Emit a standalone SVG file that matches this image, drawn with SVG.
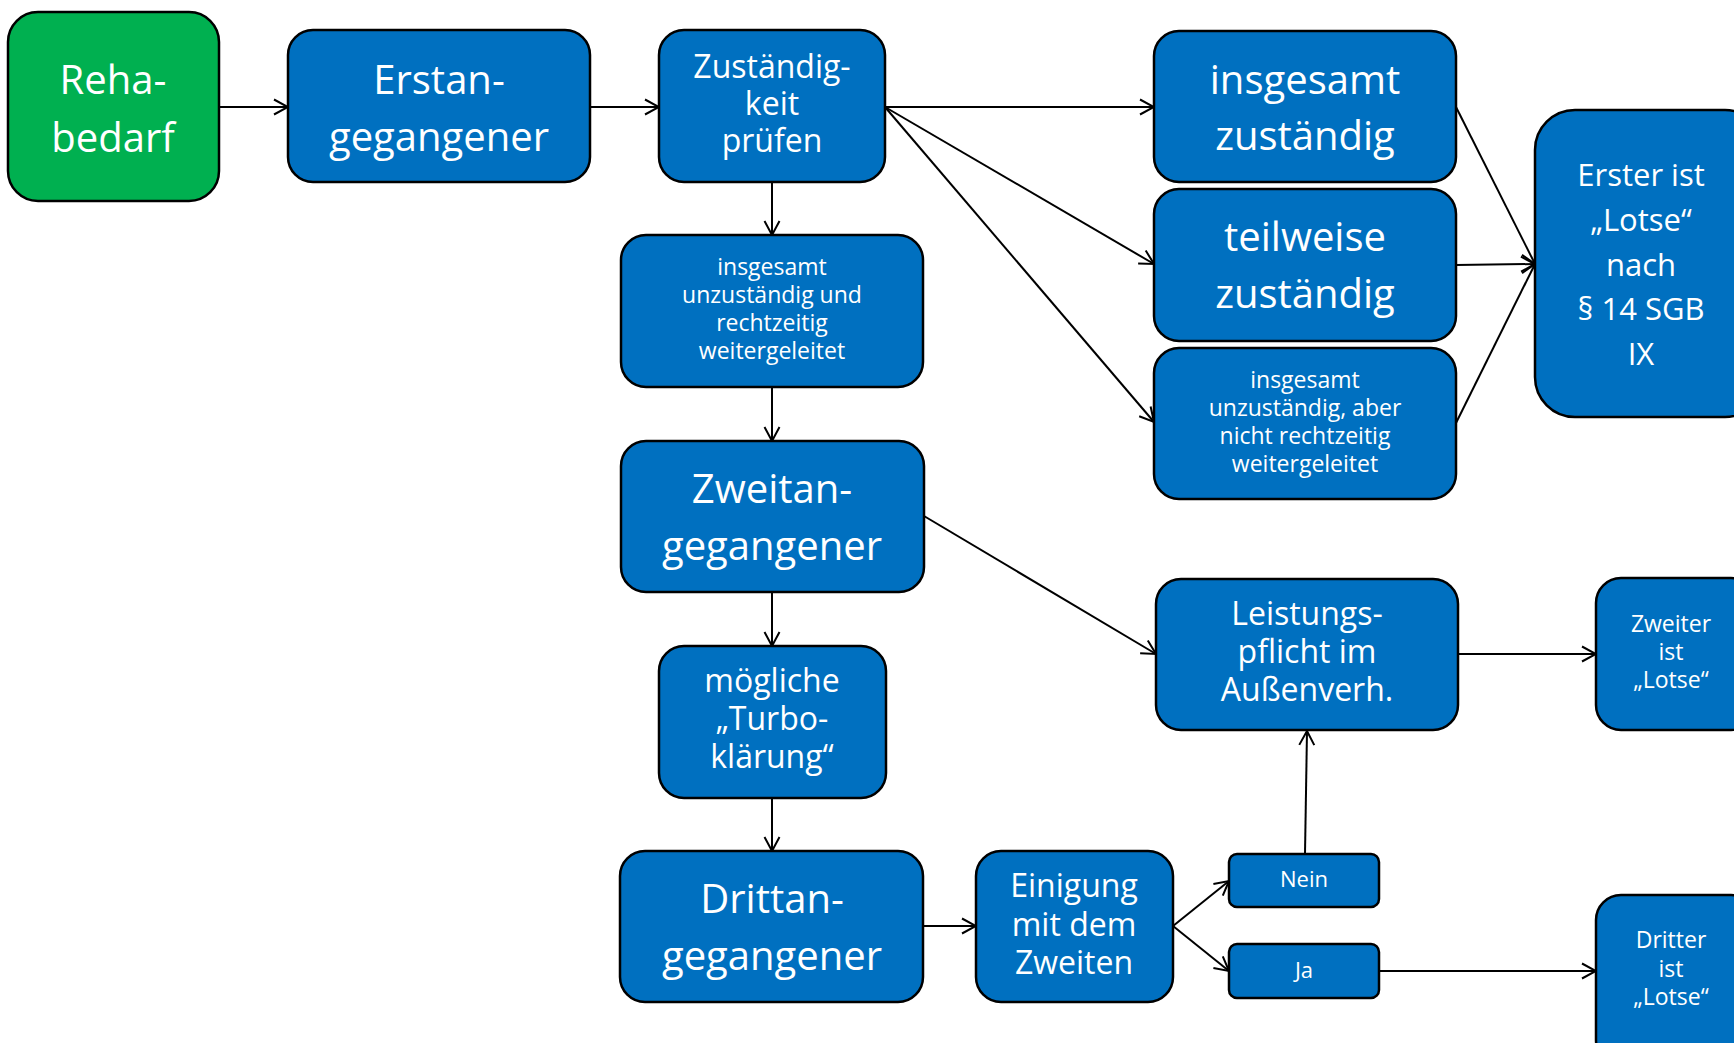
<svg xmlns="http://www.w3.org/2000/svg" width="1734" height="1043" viewBox="0 0 1734 1043">
<style>
.b{fill:#0070C0;stroke:#000;stroke-width:2.5}
.g{fill:#00B050;stroke:#000;stroke-width:2.5}
text{fill:#fff;font-family:"Open Sans","Noto Sans","DejaVu Sans",sans-serif;text-anchor:middle}
.xl{font-size:40px}
.l{font-size:32px}
.m{font-size:31px}
.s{font-size:23px}
.n{font-size:22px}
.c line{stroke:#000;stroke-width:2;marker-end:url(#a)}
</style>
<defs>
<marker id="a" markerUnits="userSpaceOnUse" markerWidth="16" markerHeight="18" viewBox="0 0 16 18" refX="15" refY="9" orient="auto">
<path d="M1,1.5 L15,9 L1,16.5" fill="none" stroke="#000" stroke-width="2"/>
</marker>
</defs>
<g class="c" id="connectors">
<line x1="219" y1="107" x2="288" y2="107"/>
<line x1="590" y1="107" x2="659" y2="107"/>
<line x1="885" y1="107" x2="1154" y2="107"/>
<line x1="885" y1="107" x2="1154" y2="264"/>
<line x1="885" y1="107" x2="1154" y2="422"/>
<line x1="1456" y1="107" x2="1535" y2="264"/>
<line x1="1456" y1="265" x2="1535" y2="264"/>
<line x1="1456" y1="423" x2="1535" y2="264"/>
<line x1="772" y1="182" x2="772" y2="235"/>
<line x1="772" y1="387" x2="772" y2="441"/>
<line x1="772" y1="592" x2="772" y2="646"/>
<line x1="772" y1="798" x2="772" y2="851"/>
<line x1="924" y1="516" x2="1156" y2="654"/>
<line x1="1458" y1="654" x2="1596" y2="654"/>
<line x1="923" y1="926" x2="976" y2="926"/>
<line x1="1173" y1="926" x2="1229" y2="881"/>
<line x1="1173" y1="926" x2="1229" y2="971"/>
<line x1="1305" y1="854" x2="1307" y2="731"/>
<line x1="1379" y1="971" x2="1596" y2="971"/>
</g>
<g id="reha"><rect class="g" x="8" y="12" width="211" height="189" rx="30"/><text class="xl" x="113" y="94">Reha-</text><text class="xl" x="113" y="152">bedarf</text></g>
<g id="erst"><rect class="b" x="288" y="30" width="302" height="152" rx="25"/><text class="xl" x="439" y="94">Erstan-</text><text class="xl" x="439" y="151">gegangener</text></g>
<g id="zust"><rect class="b" x="659" y="30" width="226" height="152" rx="25"/><text class="l" x="772" y="78">Zuständig-</text><text class="l" x="772" y="115">keit</text><text class="l" x="772" y="152">prüfen</text></g>
<g id="unzund"><rect class="b" x="621" y="235" width="302" height="152" rx="25"/><text class="s" x="772" y="275">insgesamt</text><text class="s" x="772" y="303">unzuständig und</text><text class="s" x="772" y="331">rechtzeitig</text><text class="s" x="772" y="359">weitergeleitet</text></g>
<g id="zweit"><rect class="b" x="621" y="441" width="303" height="151" rx="25"/><text class="xl" x="772" y="503">Zweitan-</text><text class="xl" x="772" y="560">gegangener</text></g>
<g id="turbo"><rect class="b" x="659" y="646" width="227" height="152" rx="25"/><text class="l" x="772" y="692">mögliche</text><text class="l" x="772" y="730">„Turbo-</text><text class="l" x="772" y="768">klärung“</text></g>
<g id="dritt"><rect class="b" x="620" y="851" width="303" height="151" rx="25"/><text class="xl" x="772" y="913">Drittan-</text><text class="xl" x="772" y="970">gegangener</text></g>
<g id="einigung"><rect class="b" x="976" y="851" width="197" height="151" rx="25"/><text class="l" x="1074" y="897">Einigung</text><text class="l" x="1074" y="936">mit dem</text><text class="l" x="1074" y="974">Zweiten</text></g>
<g id="nein"><rect class="b" x="1229" y="854" width="150" height="53" rx="8"/><text class="n" x="1304" y="887">Nein</text></g>
<g id="ja"><rect class="b" x="1229" y="944" width="150" height="54" rx="8"/><text class="n" x="1304" y="978">Ja</text></g>
<g id="insgzust"><rect class="b" x="1154" y="31" width="302" height="151" rx="25"/><text class="xl" x="1305" y="94">insgesamt</text><text class="xl" x="1305" y="150">zuständig</text></g>
<g id="teilw"><rect class="b" x="1154" y="189" width="302" height="152" rx="25"/><text class="xl" x="1305" y="251">teilweise</text><text class="xl" x="1305" y="308">zuständig</text></g>
<g id="unzaber"><rect class="b" x="1154" y="348" width="302" height="151" rx="25"/><text class="s" x="1305" y="388">insgesamt</text><text class="s" x="1305" y="416">unzuständig, aber</text><text class="s" x="1305" y="444">nicht rechtzeitig</text><text class="s" x="1305" y="472">weitergeleitet</text></g>
<g id="leistung"><rect class="b" x="1156" y="579" width="302" height="151" rx="25"/><text class="l" x="1307" y="625">Leistungs-</text><text class="l" x="1307" y="663">pflicht im</text><text class="l" x="1307" y="701">Außenverh.</text></g>
<g id="erster"><rect class="b" x="1535" y="110" width="230" height="307" rx="40"/><text class="m" x="1641" y="186">Erster ist</text><text class="m" x="1641" y="231">„Lotse“</text><text class="m" x="1641" y="276">nach</text><text class="m" x="1641" y="320">§ 14 SGB</text><text class="m" x="1641" y="365">IX</text></g>
<g id="zweiter"><rect class="b" x="1596" y="578" width="160" height="152" rx="25"/><text class="s" x="1671" y="632">Zweiter</text><text class="s" x="1671" y="660">ist</text><text class="s" x="1671" y="688">„Lotse“</text></g>
<g id="dritter"><rect class="b" x="1596" y="895" width="160" height="170" rx="25"/><text class="s" x="1671" y="948">Dritter</text><text class="s" x="1671" y="977">ist</text><text class="s" x="1671" y="1005">„Lotse“</text></g>
</svg>
